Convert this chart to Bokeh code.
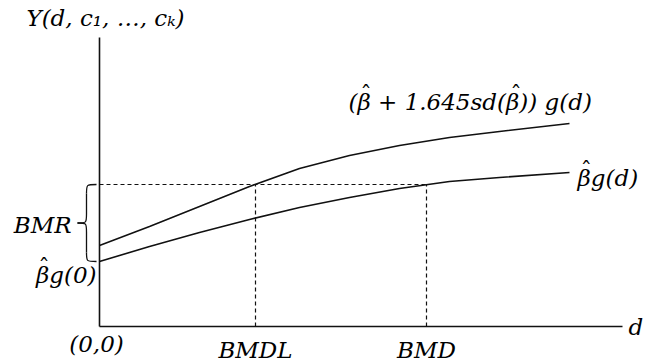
from bokeh.plotting import figure
from bokeh.models import Range1d
from bokeh.core.properties import value
from bokeh.embed import file_html
from bokeh.resources import INLINE

# ---- data (schematic, arbitrary units) ----
dose = [0.0, 0.5, 1.0, 1.5, 2.0, 2.5, 3.0, 3.5, 4.0, 4.7]
upper_curve = [0.81, 1.00, 1.20, 1.40, 1.58, 1.71, 1.81, 1.89, 1.95, 2.03]  # (beta + 1.645 sd(beta)) g(d)
lower_curve = [0.65, 0.80, 0.94, 1.07, 1.19, 1.29, 1.38, 1.45, 1.49, 1.54]  # beta g(d)
bmr_level = 1.42
bmdl = 1.56
bmd = 3.27
x_axis_end = 5.23
y_axis_top = 2.89

FONT = value("DejaVu Serif")
INK = "#000000"
FS = 23
K = FS / 21.0

p = figure(width=648, height=363,
           x_range=Range1d(-0.99, 5.49), y_range=Range1d(-0.37, 3.26),
           x_axis_location=None, y_axis_location=None,
           output_backend="svg", toolbar_location=None, min_border=0)
p.grid.visible = False
p.outline_line_color = None
p.background_fill_color = "white"
p.border_fill_color = "white"

# axes
p.segment(x0=[0, 0], y0=[0, 0], x1=[x_axis_end, 0], y1=[0, y_axis_top],
          line_color="#111111", line_width=1.6)

# curves
p.line(dose, upper_curve, line_color="#111111", line_width=1.6)
p.line(dose, lower_curve, line_color="#111111", line_width=1.6)

# dashed guides
p.segment(x0=[0, bmdl, bmd], y0=[bmr_level, 0, 0],
          x1=[bmd, bmdl, bmd], y1=[bmr_level, bmr_level, bmr_level],
          line_color="#111111", line_width=1.2, line_dash="4 3")

# curly brace between beta g(0) and BMR level
b0 = lower_curve[0]
ymid = (bmr_level + b0) / 2
xr, xm, xt, h = -0.03, -0.13, -0.22, 0.09
p.bezier(x0=[xr, xm, xr, xm], y0=[bmr_level, ymid + h, b0, ymid - h],
         x1=[xm, xt, xm, xt], y1=[bmr_level - h, ymid, b0 + h, ymid],
         cx0=[xm, xm, xm, xm], cy0=[bmr_level, ymid, b0, ymid],
         cx1=[xm, xm, xm, xm], cy1=[bmr_level, ymid, b0, ymid],
         line_color="#111111", line_width=1.3)
p.segment(x0=[xm, xm], y0=[bmr_level - h, b0 + h], x1=[xm, xm], y1=[ymid + h, ymid - h],
          line_color="#111111", line_width=1.3)

def label(x, y, txt, align="center", baseline="middle", size=FS):
    p.text(x=[x], y=[y], text=[txt], text_font=FONT, text_font_style="italic",
           text_font_size=f"{size}px", text_color=INK, text_align=align, text_baseline=baseline)

def hat(x, y, dx, size=FS):
    p.text(x=[x], y=[y], text=["\u02c6"], text_font=FONT, text_font_size=f"{size}px",
           text_color=INK, text_align="center", text_baseline="middle",
           x_offset=dx * K, y_offset=-8)

# axis title
label(0.06, y_axis_top + 0.20, "Y(d, c\u2081, \u2026, c\u2096)")

# upper curve label
ux, uy = dose[-1] - 2.21, upper_curve[-1] + 0.22
label(ux, uy, "(\u03b2 + 1.645sd(\u03b2)) g(d)", align="left")
hat(ux, uy, 16)
hat(ux, uy, 153)

# lower curve label
lx, ly = dose[-1] + 0.08, lower_curve[-1] - 0.05
label(lx, ly, "\u03b2g(d)", align="left")
hat(lx, ly, 8)

# BMR and intercept labels
label(-0.28, ymid - 0.02, "BMR", align="right")
bx, by = -0.03, b0 - 0.13
label(bx, by, "\u03b2g(0)", align="right")
hat(bx, by, -48)

label(-0.03, -0.17, "(0,0)")
label(bmdl, -0.365, "BMDL", baseline="bottom")
label(bmd, -0.365, "BMD", baseline="bottom")
label(x_axis_end + 0.06, 0.0, "d", align="left")

open("out.html", "w").write(file_html(p, INLINE))
